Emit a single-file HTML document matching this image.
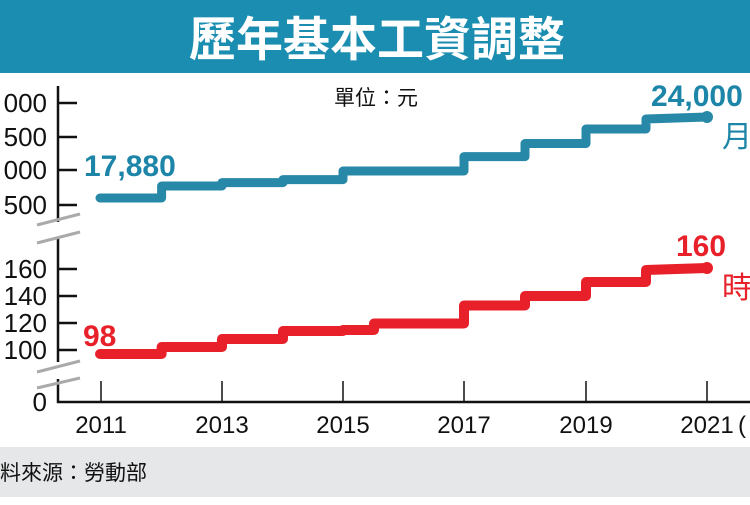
<!DOCTYPE html><html><head><meta charset="utf-8"><style>body{margin:0;width:750px;height:500px;overflow:hidden;background:#fff;font-family:"Liberation Sans","Noto Sans CJK TC",sans-serif}</style></head><body>
<svg width="750" height="500" xmlns="http://www.w3.org/2000/svg" style="font-family:'Liberation Sans','Noto Sans CJK TC',sans-serif">
<rect x="0" y="0" width="750" height="73" fill="#1a8db0"/>
<text x="377" y="56" font-size="47" font-weight="bold" fill="#fff" text-anchor="middle">歷年基本工資調整</text>
<rect x="0" y="447" width="750" height="50" fill="#e6e7e9"/>
<text x="-21" y="480" font-size="21" fill="#111">資料來源：勞動部</text>
<g stroke="#111" stroke-width="2.5" fill="none">
<line x1="58" y1="86" x2="58" y2="222"/><line x1="58" y1="238" x2="58" y2="362"/><line x1="58" y1="379" x2="58" y2="403"/>
<line x1="57" y1="402" x2="750" y2="402"/>
<line x1="58" y1="103" x2="77" y2="103"/><line x1="58" y1="137" x2="77" y2="137"/><line x1="58" y1="170" x2="77" y2="170"/><line x1="58" y1="205" x2="77" y2="205"/>
<line x1="58" y1="269" x2="77" y2="269"/><line x1="58" y1="296" x2="77" y2="296"/><line x1="58" y1="323" x2="77" y2="323"/><line x1="58" y1="350" x2="77" y2="350"/>
</g>
<g stroke="#111" stroke-width="1.5"><line x1="101" y1="381" x2="101" y2="402"/><line x1="222" y1="381" x2="222" y2="402"/><line x1="343" y1="381" x2="343" y2="402"/><line x1="464" y1="381" x2="464" y2="402"/><line x1="586" y1="381" x2="586" y2="402"/><line x1="707" y1="381" x2="707" y2="402"/></g>
<g stroke="#aaa" stroke-width="3"><line x1="37" y1="225" x2="80" y2="214"/><line x1="37" y1="243" x2="80" y2="232"/><line x1="37" y1="372" x2="80" y2="361"/><line x1="37" y1="388" x2="80" y2="378"/></g>
<g font-size="26" fill="#111" text-anchor="end"><text x="47" y="112">000</text><text x="47" y="146">500</text><text x="47" y="179">000</text><text x="47" y="214">500</text>
<text x="47" y="278">160</text><text x="47" y="305">140</text><text x="47" y="332">120</text><text x="47" y="359">100</text><text x="47" y="411">0</text></g>
<g font-size="24" fill="#111" text-anchor="middle"><text x="101" y="433">2011</text><text x="222" y="433">2013</text><text x="343" y="433">2015</text><text x="464" y="433">2017</text><text x="586" y="433">2019</text><text x="707" y="433">2021</text></g>
<text x="738" y="433" font-size="24" fill="#111">(</text>
<text x="376" y="105" font-size="21" fill="#111" text-anchor="middle">單位：元</text>
<polyline fill="none" stroke="#2788a8" stroke-width="9" stroke-linejoin="round" stroke-linecap="round" points="100,198 161.6,198 161.6,186 222,186 222,182.6 283,182.6 283,179.6 343,179.6 343,171 464,171 464,156.6 525,156.6 525,143.5 586,143.5 586,129 646,129 646,119 707,117"/>
<circle cx="707" cy="117" r="6" fill="#2788a8"/>
<polyline fill="none" stroke="#e8202a" stroke-width="10" stroke-linejoin="round" stroke-linecap="round" points="100,354 161.6,354 161.6,347 222,347 222,339 283,339 283,331 343,331 343,330 374,330 374,323.5 464,323.5 464,305.5 525,305.5 525,296 586,296 586,282 646,282 646,270 707,268"/>
<circle cx="707" cy="268" r="6" fill="#e8202a"/>
<g font-weight="bold" font-size="30"><text x="84" y="176" fill="#1d86a8">17,880</text><text x="651" y="106" fill="#1d86a8">24,000</text><text x="83" y="346" fill="#e8202a">98</text><text x="676" y="256" fill="#e8202a">160</text></g>
<text x="722" y="147" font-size="30" fill="#1d86a8">月</text>
<text x="722" y="298" font-size="30" fill="#e8202a">時</text>
</svg></body></html>
